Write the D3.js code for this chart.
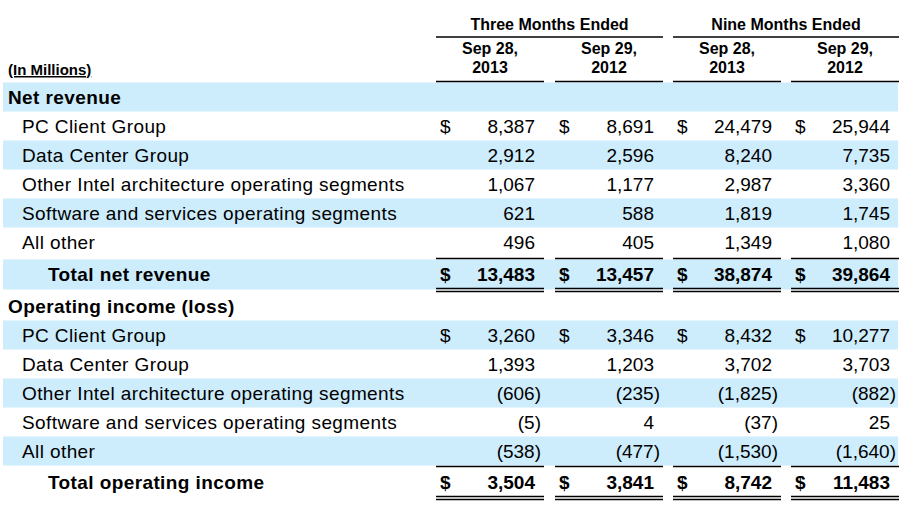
<!DOCTYPE html>
<html>
<head>
<script src="https://d3js.org/d3.v7.min.js"></script>
<style>body{margin:0;background:#fff}</style>
</head>
<body>
<svg id="chart" width="902" height="508"></svg>
<script>
// Column headers
var groups = ["Three Months Ended", "Nine Months Ended"];
var periods = [["Sep 28,", "2013"], ["Sep 29,", "2012"], ["Sep 28,", "2013"], ["Sep 29,", "2012"]];

// Row labels, type: h = section header, r = item, t = total
var labels = ["Net revenue", "PC Client Group", "Data Center Group", "Other Intel architecture operating segments",
  "Software and services operating segments", "All other", "Total net revenue",
  "Operating income (loss)", "PC Client Group", "Data Center Group", "Other Intel architecture operating segments",
  "Software and services operating segments", "All other", "Total operating income"];
var types = ["h", "r", "r", "r", "r", "r", "t", "h", "r", "r", "r", "r", "r", "t"];
var shaded = [1, 0, 1, 0, 1, 0, 1, 0, 1, 0, 1, 0, 1, 0];
var dollar = [0, 1, 0, 0, 0, 0, 1, 0, 1, 0, 0, 0, 0, 1];

// Values per column (null for headers)
var q3_2013 = [null, 8387, 2912, 1067, 621, 496, 13483, null, 3260, 1393, -606, -5, -538, 3504];
var q3_2012 = [null, 8691, 2596, 1177, 588, 405, 13457, null, 3346, 1203, -235, 4, -477, 3841];
var ytd_2013 = [null, 24479, 8240, 2987, 1819, 1349, 38874, null, 8432, 3702, -1825, -37, -1530, 8742];
var ytd_2012 = [null, 25944, 7735, 3360, 1745, 1080, 39864, null, 10277, 3703, -882, 25, -1640, 11483];
var columns = [q3_2013, q3_2012, ytd_2013, ytd_2012];

var svg = d3.select("#chart");
var font = "Liberation Sans, Arial, sans-serif";

var rowCenters = [97, 126, 155, 184, 213, 242, 274, 306, 335, 364, 393, 422, 451, 482];
var colLeft = [436, 555, 673, 791];
var colW = 108;
var fmt = d3.format(",");

// shaded bands
rowCenters.forEach(function(y, i) {
  if (shaded[i]) {
    var h = types[i] == "t" ? 30 : 29;
    svg.append("rect").attr("x", 3).attr("y", y - 14.5).attr("width", 895).attr("height", h).attr("fill", "#cdecfc");
  }
});

// group headers
groups.forEach(function(g, i) {
  var x0 = colLeft[i * 2], x1 = colLeft[i * 2 + 1] + colW;
  svg.append("text").attr("x", (x0 + x1) / 2).attr("y", 30).attr("text-anchor", "middle")
    .attr("font-family", font).attr("font-weight", "bold").attr("font-size", 16).text(g);
  svg.append("line").attr("x1", x0).attr("x2", x1).attr("y1", 37).attr("y2", 37).attr("stroke", "#000").attr("stroke-width", 1.5);
});

periods.forEach(function(p, i) {
  var cx = colLeft[i] + colW / 2;
  p.forEach(function(t, k) {
    svg.append("text").attr("x", cx).attr("y", 54 + k * 19).attr("text-anchor", "middle")
      .attr("font-family", font).attr("font-weight", "bold").attr("font-size", 16).text(t);
  });
  svg.append("line").attr("x1", colLeft[i]).attr("x2", colLeft[i] + colW).attr("y1", 81.5).attr("y2", 81.5).attr("stroke", "#000").attr("stroke-width", 1.5);
});

svg.append("text").attr("x", 8).attr("y", 75).attr("font-family", font).attr("font-weight", "bold")
  .attr("font-size", 15).attr("text-decoration", "underline").text("(In Millions)");

// row labels
labels.forEach(function(l, i) {
  var x = types[i] == "h" ? 8 : types[i] == "t" ? 48 : 22;
  svg.append("text").attr("x", x).attr("y", rowCenters[i] + 7).attr("font-family", font)
    .attr("font-weight", types[i] == "r" ? "normal" : "bold").attr("font-size", 19)
    .attr("letter-spacing", 0.4).text(l);
});

// values
columns.forEach(function(vals, c) {
  var right = colLeft[c] + colW - 9;
  vals.forEach(function(v, i) {
    if (v == null) return;
    var bold = types[i] == "t" ? "bold" : "normal";
    var y = rowCenters[i] + 7;
    if (dollar[i]) {
      svg.append("text").attr("x", colLeft[c] + 4).attr("y", y).attr("font-family", font)
        .attr("font-weight", bold).attr("font-size", 19).text("$");
    }
    var t = v < 0 ? "(" + fmt(-v) + ")" : fmt(v);
    svg.append("text").attr("x", v < 0 ? right + 6 : right).attr("y", y).attr("text-anchor", "end")
      .attr("font-family", font).attr("font-weight", bold).attr("font-size", 19).text(t);
  });
  // total rules
  rowCenters.forEach(function(y, i) {
    if (types[i] != "t") return;
    var x0 = colLeft[c], x1 = colLeft[c] + colW;
    [y - 15.5, y + 14.5, y + 17.5].forEach(function(ly) {
      svg.append("line").attr("x1", x0).attr("x2", x1).attr("y1", ly).attr("y2", ly).attr("stroke", "#000").attr("stroke-width", 1.5);
    });
  });
});
</script>
</body>
</html>
